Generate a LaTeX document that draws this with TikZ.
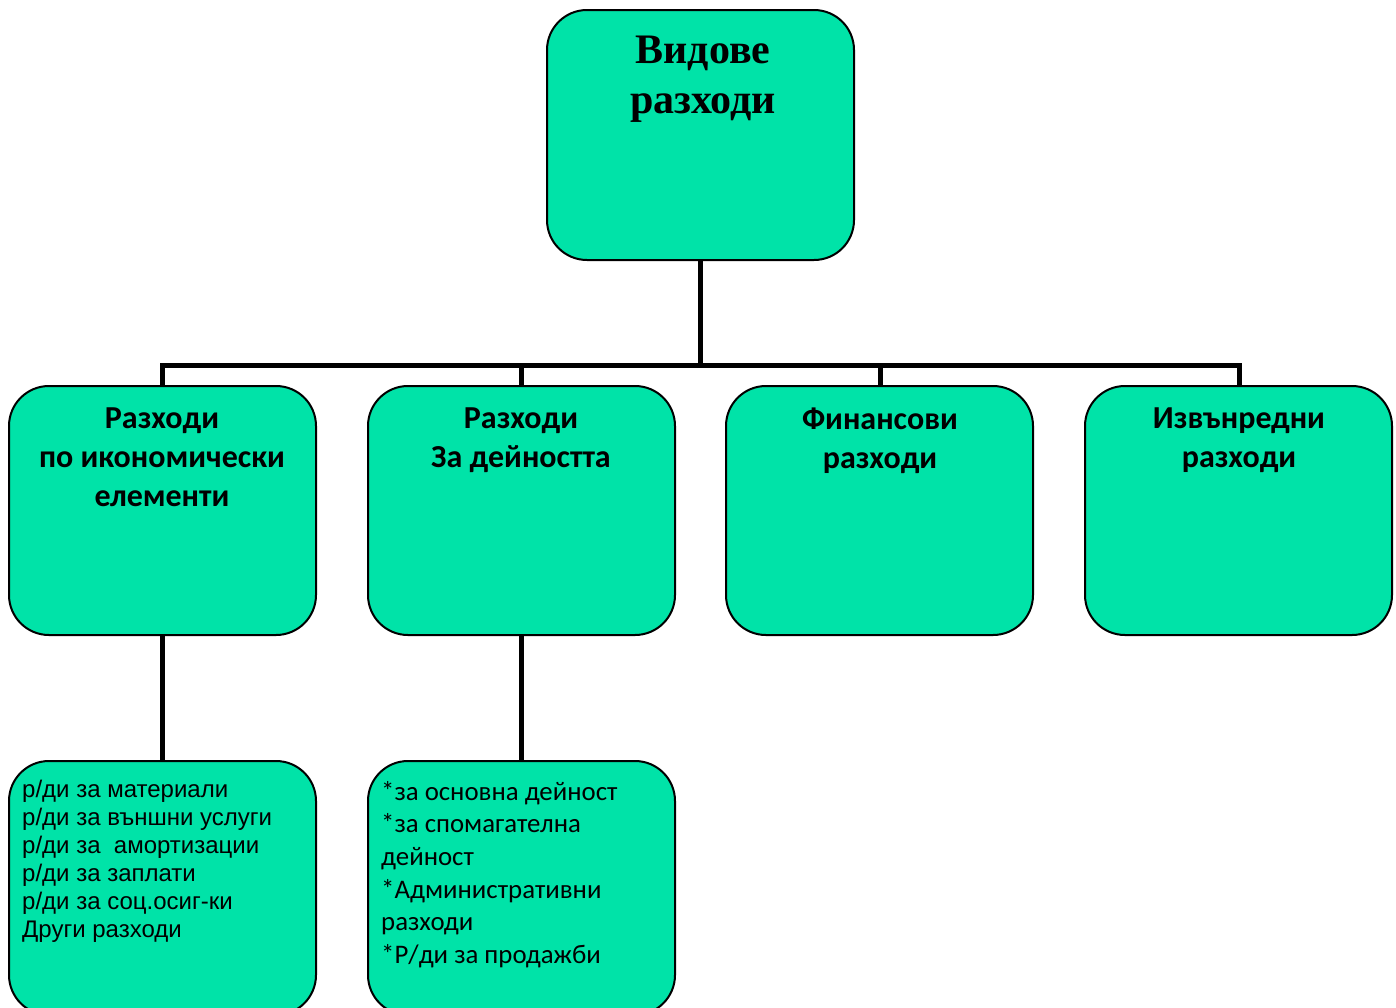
\documentclass[tikz,border=0pt]{standalone}
\usepackage{fontspec}
\setmainfont{Liberation Serif}
\newfontfamily\carlito{Carlito}
\newfontfamily\arialf{Liberation Sans}
\definecolor{boxgreen}{HTML}{00E3A8}
\begin{document}
\begin{tikzpicture}[x=1pt,y=-1pt,
  box/.style={draw=black,line width=2pt,fill=boxgreen,rounded corners=40pt},
  conn/.style={line width=5pt},
  lbl/.style={inner sep=0pt,anchor=north,align=center},
  hdr/.style={lbl,font={\carlito\bfseries\fontsize{32}{39}\selectfont}}]
\useasboundingbox (0,0) rectangle (1396,1007);
\clip (0,0) rectangle (1396,1007);
% boxes
\draw[box] (547,10) rectangle (854,260);
\coordinate (topb) at (700,260);
\draw[box] (9,386) rectangle (316,635);
\draw[box] (368,386) rectangle (675,635);
\draw[box] (726,386) rectangle (1033,635);
\draw[box] (1085,386) rectangle (1392,635);
\draw[box] (9,761) rectangle (316,1015);
\draw[box] (368,761) rectangle (675,1015);
% labels
\node[lbl,font={\bfseries\fontsize{42}{50}\selectfont}] (t0) at (703,36) {Видове\\разходи};
\node[hdr] (t1) at (162,408) {Разходи\\по икономически\\елементи};
\node[hdr] (t2) at (521,408) {Разходи\\За дейността};
\node[hdr] (t3) at (880,408) {Финансови\\разходи};
\node[hdr] (t4) at (1239,408) {Извънредни\\разходи};
\node[inner sep=0pt,anchor=north west,align=left,font={\arialf\fontsize{24}{28}\selectfont}] (t5) at (22,780) {р/ди за материали\\р/ди за външни услуги\\р/ди за\ \ амортизации\\р/ди за заплати\\р/ди за соц.осиг-ки\\Други разходи};
\node[inner sep=0pt,anchor=north west,align=left,font={\carlito\fontsize{26.8}{32.6}\selectfont}] (t6) at (381,781) {*за основна дейност\\*за спомагателна\\дейност\\*Административни\\разходи\\*Р/ди за продажби};
% connectors
\coordinate (bus) at (700,365);
\coordinate (b1) at (162,386);
\coordinate (b2) at (521,386);
\coordinate (b3) at (880,386);
\coordinate (b4) at (1239,386);
\coordinate (c1) at (162,635);
\coordinate (c2) at (521,635);
\coordinate (d1) at (162,761);
\coordinate (d2) at (521,761);
\draw[conn] (topb) -- (bus);
\draw[conn] (b1) -- (162,365) -- (1239,365) -- (b4);
\draw[conn] (b2) -- (521,365);
\draw[conn] (b3) -- (880,365);
\draw[conn] (c1) -- (d1);
\draw[conn] (c2) -- (d2);
\end{tikzpicture}
\end{document}
